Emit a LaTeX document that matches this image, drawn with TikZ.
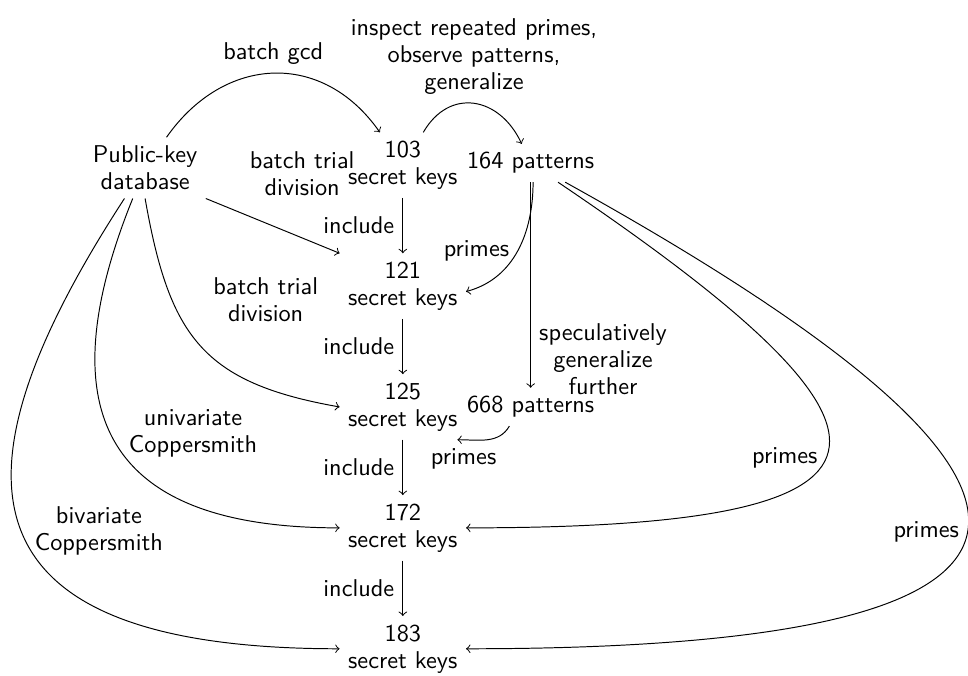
\documentclass[tikz,border=0pt]{standalone}
\usepackage{tikz}
\usetikzlibrary{positioning}

\begin{document}
\begin{tikzpicture}[font=\sffamily\fontsize{10}{11.1}\selectfont, every node/.style={align=center}]

    \useasboundingbox (0, 0) rectangle (14.01, 9.77);

    % Database, key sets and patterns
    \node (db) at (2.10, 7.34) {Public-key\\database};
    \node (k103) at (5.83, 7.38) {103\\secret keys};
    \node (pat164) at (7.68, 7.41) {164 patterns};
    \node (k121) at (5.83, 5.63) {121\\secret keys};
    \node (k125) at (5.83, 3.88) {125\\secret keys};
    \node (pat668) at (7.68, 3.88) {668 patterns};
    \node (k172) at (5.83, 2.13) {172\\secret keys};
    \node (k183) at (5.83, 0.38) {183\\secret keys};

    % Attacks on the database
    \draw[->] (db.55) to[out=55, in=125, looseness=1.2] node[above] {batch gcd} (k103.125);
    \draw[->] (db.south east) -- node[pos=0.72, above=14pt] {batch trial\\division} (k121.north west);
    \draw[->] (db.south) to[out=-80, in=170, looseness=1.25] node[pos=0.5, above right=6pt and 2pt] {batch trial\\division} (k125.west);
    \draw[->] (db.-112) to[out=-112, in=180, looseness=1.53] node[pos=0.47, right=4pt] {univariate\\Coppersmith} (k172.west);
    \draw[->] (db.-124) to[out=-123, in=180, out looseness=1.6, in looseness=2.05] node[pos=0.52, right=2pt] {bivariate\\Coppersmith} (k183.west);

    % Each set includes the one before
    \draw[->] (k103) -- node[left] {include} (k121);
    \draw[->] (k121) -- node[left] {include} (k125);
    \draw[->] (k125) -- node[left] {include} (k172);
    \draw[->] (k172) -- node[left] {include} (k183);

    % Patterns and the primes they give
    \draw[->] (k103.58) to[out=60, in=115, looseness=1.35] node[above] {inspect repeated primes,\\observe patterns,\\generalize} (pat164.115);
    \draw[->] (pat164) -- node[pos=0.86, right] {speculatively\\generalize\\further} (pat668);
    \draw[->] ([xshift=1pt]pat164.south) to[out=-90, in=15] node[midway, left] {primes} (k121.-5);
    \draw[->] (pat668.-138) to[out=-120, in=0] node[pos=0.9, below] {primes} (k125.-31);
    \draw[->] (pat164.-35) to[out=-34, in=0, looseness=3.3] node[pos=0.52, left] {primes} (k172.east);
    \draw[->] (pat164.-29) to[out=-29, in=0, looseness=3.45] node[midway, left] {primes} (k183.east);

\end{tikzpicture}
\end{document}
